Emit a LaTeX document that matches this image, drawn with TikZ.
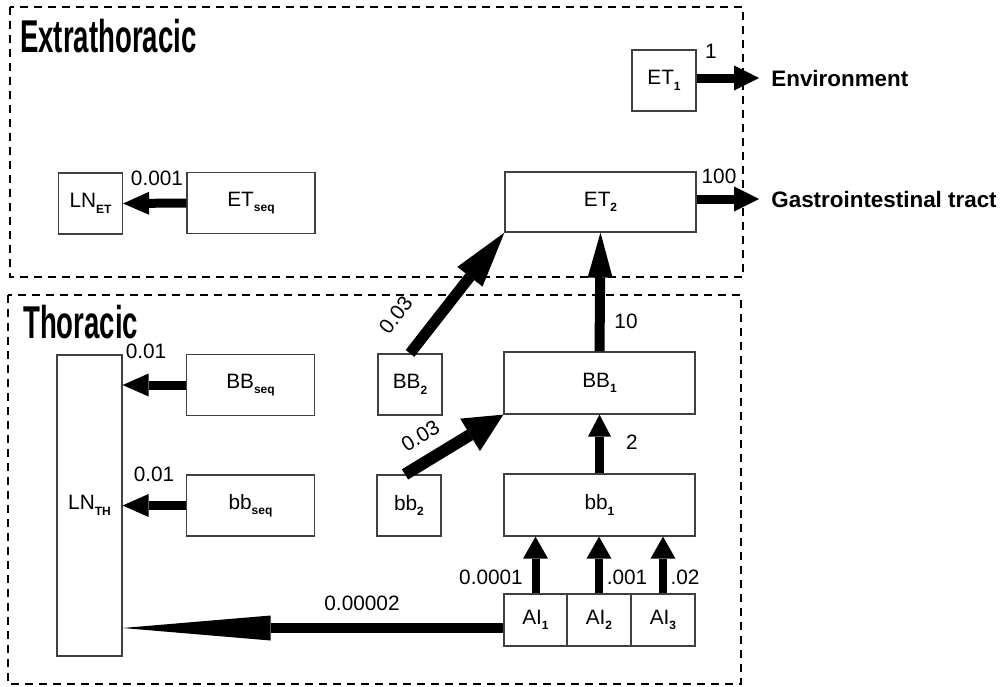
\documentclass[tikz,border=0pt]{standalone}
\usepackage{fontspec}
\setmainfont{Liberation Sans}
\usetikzlibrary{arrows.meta}
\newcommand{\lsub}[1]{\raisebox{-0.5ex}{\fontsize{6}{6}\selectfont\bfseries #1}}

\begin{document}
\begin{tikzpicture}[x=0.5pt, y=-0.5pt, font=\fontsize{10.4}{12}\selectfont,
		box/.style={draw=black!75, line width=0.6pt, inner sep=0pt, minimum width=32pt, minimum height=30.5pt},
		widebox/.style={box, minimum width=64pt},
		longbox/.style={box, minimum width=95.5pt},
		region/.style={dash pattern=on 4pt off 3pt, line width=0.7pt},
		title/.style={font=\fontsize{23}{24}\selectfont\bfseries, xscale=0.6, anchor=base west, inner sep=0pt},
		exit/.style={font=\fontsize{11.2}{13}\selectfont\bfseries, anchor=west, inner sep=0pt},
		flow/.style={line width=4.5pt, -{Triangle[length=13pt, width=11.5pt, line width=0pt]}},
		rate/.style={inner sep=0pt}]
	
	\useasboundingbox (0,0) rectangle (1001,686);
	
	% ================= Extrathoracic =================
	\draw[region] (10,7) rectangle (743,277);
	\node[title] (etitle) at (20,52) {Extrathoracic};
	
	\node[box] (lnet) at (90.5,203.5) {LN\lsub{ET}};
	\node[widebox] (etseq) at (251,203) {ET\lsub{seq}};
	\node[box] (et1) at (664,80.5) {ET\lsub{1}};
	\node[longbox, minimum height=30pt] (et2) at (600.5,202) {ET\lsub{2}};
	
	\node[exit] (env) at (771,78) {Environment};
	\node[exit] (git) at (771,199) {Gastrointestinal tract};
	
	\draw[flow] (etseq.west) -- (lnet.east);
	\draw[flow, -{Triangle[length=12.5pt, width=12.5pt, line width=0pt]}] (et1.east |- env) -- ([xshift=-6pt]env.west);
	\draw[flow, -{Triangle[length=12.5pt, width=12.5pt, line width=0pt]}] (et2.east |- git) -- ([xshift=-6pt]git.west);
	
	\node[rate] (r-etseq) at (157,178) {0.001};
	\node[rate] (r-et1) at (711,51) {1};
	\node[rate] (r-et2) at (719,176) {100};
	
	% ================= Thoracic =================
	\draw[region] (8,295) rectangle (741,684);
	\node[title] (ttitle) at (23,338) {Thoracic};
	
	\node[box, minimum width=32.5pt, minimum height=150.5pt] (lnth) at (89.5,505.5) {LN\lsub{TH}};
	\node[widebox] (bbseq) at (250.5,385) {BB\lsub{seq}};
	\node[widebox] (bsseq) at (250.5,505.5) {bb\lsub{seq}};
	\node[box] (BB2) at (410,384.5) {BB\lsub{2}};
	\node[box] (bb2) at (409,505.5) {bb\lsub{2}};
	\node[longbox, minimum height=31pt] (BB1) at (599.5,383) {BB\lsub{1}};
	\node[longbox, minimum height=31pt] (bb1) at (599.5,505) {bb\lsub{1}};
	
	% alveolar-interstitial, three boxes side by side
	\node[box, minimum width=31.5pt, minimum height=26pt] (ai1) at (535.5,620) {AI\lsub{1}};
	\node[box, minimum height=26pt] (ai2) at (599,620) {AI\lsub{2}};
	\node[box, minimum height=26pt] (ai3) at (663,620) {AI\lsub{3}};
	
	% to the lymph nodes
	\draw[flow] (bbseq.west) -- (bbseq.west -| lnth.east);
	\draw[flow] (bsseq.west) -- (bsseq.west -| lnth.east);
	\draw[line width=5pt, -{Triangle[length=74pt, width=12.5pt, line width=0pt]}] ([yshift=-4pt]ai1.west) -- ([yshift=-4pt]ai1.west -| lnth.east);
	
	% up the airways
	\draw[flow, line width=4pt, -{Triangle[length=11pt, width=12.5pt, line width=0pt]}] (ai1.north) -- (ai1.north |- bb1.south);
	\draw[flow, line width=4pt, -{Triangle[length=11pt, width=12.5pt, line width=0pt]}] (ai2.north) -- (ai2.north |- bb1.south);
	\draw[flow, line width=4pt, -{Triangle[length=11pt, width=12.5pt, line width=0pt]}] (ai3.north) -- (ai3.north |- bb1.south);
	\draw[flow, -{Triangle[length=11pt, width=11.5pt, line width=0pt]}] (bb1.north) -- (BB1.south);
	\draw[line width=5pt, -{Triangle[length=22.5pt, width=12.5pt, line width=0pt]}] (BB1.north) -- (et2.south);
	\draw[line width=5.5pt, -{Triangle[length=28pt, width=16pt, line width=0pt]}] (BB2.north) -- node[rate, sloped, above=11pt, pos=0.14] (r-BB2) {0.03} (et2.south west);
	\draw[line width=6pt, -{Triangle[length=19.5pt, width=19pt, line width=0pt]}] ([xshift=-2pt]bb2.north) -- node[rate, sloped, above=6pt, pos=0.29] (r-bb2) {0.03} (BB1.south west);
	
	\node[rate] (r-bbseq) at (146,351) {0.01};
	\node[rate] (r-bsseq) at (154,474) {0.01};
	\node[rate] (r-BB1) at (626,321) {10};
	\node[rate] (r-bb1) at (632,442) {2};
	\node[rate] (r-ai1) at (491,577) {0.0001};
	\node[rate] (r-ai2) at (627,577) {.001};
	\node[rate] (r-ai3) at (685,577) {.02};
	\node[rate] (r-lnth) at (362,603) {0.00002};
	
\end{tikzpicture}
\end{document}
